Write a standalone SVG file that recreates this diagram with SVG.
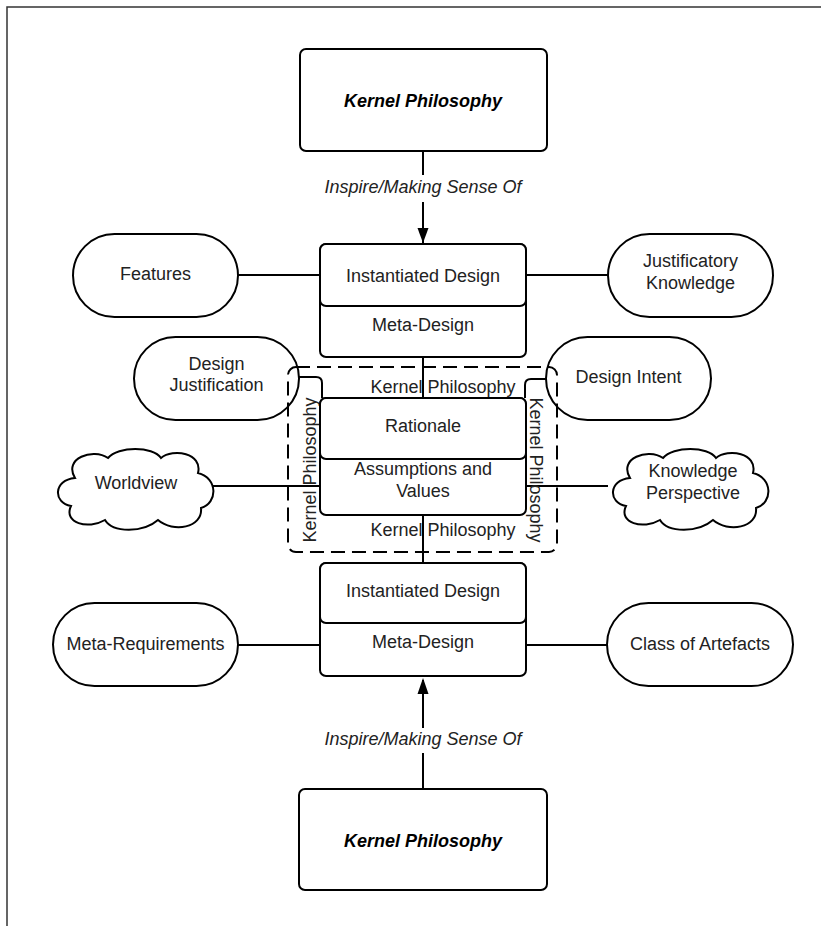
<svg xmlns="http://www.w3.org/2000/svg" width="821" height="926" viewBox="0 0 821 926">
<style>
.box{fill:#fff;stroke:#000;stroke-width:2}
.ln{fill:none;stroke:#000;stroke-width:2}
.t{font-family:"Liberation Sans",Arial,sans-serif;font-size:18px;fill:#222;text-anchor:middle}
.kb{font-weight:bold;font-style:italic;fill:#000}
.it{font-style:italic}
</style>
<defs>
<marker id="arr" markerUnits="userSpaceOnUse" markerWidth="12" markerHeight="16" viewBox="0 0 12 16" refX="6" refY="15" orient="auto-start-reverse">
<path d="M0 0 L12 0 L6 15 Z" fill="#000" transform="rotate(0)"/>
</marker>
<path id="cloud" d="M22 30 C10 10 40 0 55 10 C65 -2 100 -2 108 10 C120 0 150 5 145 25 C165 30 165 55 148 60 C150 80 120 85 105 72 C90 85 60 85 52 72 C35 82 10 75 18 58 C0 55 0 32 22 30 Z"/>
</defs>
<rect width="821" height="926" fill="#fff"/>
<path d="M7 926 V7 H821" fill="none" stroke="#333" stroke-width="1.5"/>

<g id="connectors">
<line class="ln" x1="423" y1="151" x2="423" y2="175"/>
<path class="ln" d="M423 202 V243" />
<polygon points="417.5,228 428.5,228 423,243" fill="#000"/>
<line class="ln" x1="238" y1="275" x2="320" y2="275"/>
<line class="ln" x1="526" y1="275" x2="608" y2="275"/>
<line class="ln" x1="423" y1="357" x2="423" y2="398"/>
<path class="ln" d="M299 377 H316 Q322 377 322 383 V398"/>
<path class="ln" d="M547 379 H531 Q525 379 525 385 V398"/>
<line class="ln" x1="212" y1="486" x2="320" y2="486"/>
<line class="ln" x1="526" y1="486" x2="608" y2="486"/>
<line class="ln" x1="423" y1="515" x2="423" y2="563"/>
<line class="ln" x1="238" y1="645" x2="320" y2="645"/>
<line class="ln" x1="526" y1="645" x2="607" y2="645"/>
<line class="ln" x1="423" y1="788" x2="423" y2="753"/>
<path class="ln" d="M423 728 V680"/>
<polygon points="417.5,694 428.5,694 423,678" fill="#000"/>
<text class="t it" x="423" y="193">Inspire/Making Sense Of</text>
<text class="t it" x="423" y="745">Inspire/Making Sense Of</text>
</g>

<g id="kernel-top">
<rect class="box" x="300" y="49" width="247" height="102" rx="6"/>
<text class="t kb" x="423" y="107">Kernel Philosophy</text>
</g>

<g id="design-top">
<rect class="box" x="320" y="244" width="206" height="113" rx="6"/>
<rect class="box" x="320" y="244" width="206" height="62" rx="6"/>
<text class="t" x="423" y="282">Instantiated Design</text>
<text class="t" x="423" y="331">Meta-Design</text>
</g>

<g id="features">
<rect class="box" x="73" y="234" width="165" height="83" rx="41.5"/>
<text class="t" x="155.5" y="280">Features</text>
</g>

<g id="justificatory-knowledge">
<rect class="box" x="608" y="234" width="165" height="83" rx="41.5"/>
<text class="t" x="690.5" y="267">Justificatory</text>
<text class="t" x="690.5" y="289">Knowledge</text>
</g>

<g id="design-justification">
<rect class="box" x="134" y="337" width="165" height="83" rx="41.5"/>
<text class="t" x="216.5" y="370">Design</text>
<text class="t" x="216.5" y="391">Justification</text>
</g>

<g id="design-intent">
<rect class="box" x="546" y="337" width="165" height="83" rx="41.5"/>
<text class="t" x="628.5" y="383">Design Intent</text>
</g>

<g id="kernel-frame">
<rect x="288" y="367" width="269" height="185" rx="8" fill="none" stroke="#000" stroke-width="2" stroke-dasharray="14 7"/>
<text class="t" x="443" y="393">Kernel Philosophy</text>
<text class="t" x="443" y="536">Kernel Philosophy</text>
<text class="t" transform="translate(316,470) rotate(-90)">Kernel Philosophy</text>
<text class="t" transform="translate(530,470) rotate(90)">Kernel Philosophy</text>
</g>

<g id="rationale">
<rect class="box" x="320" y="398" width="206" height="117" rx="6"/>
<rect class="box" x="320" y="398" width="206" height="61" rx="6"/>
<text class="t" x="423" y="432">Rationale</text>
<text class="t" x="423" y="475">Assumptions and</text>
<text class="t" x="423" y="497">Values</text>
</g>

<g id="worldview">
<use href="#cloud" class="box" transform="translate(53,448)"/>
<text class="t" x="136" y="489">Worldview</text>
</g>

<g id="knowledge-perspective">
<use href="#cloud" class="box" transform="translate(608,448)"/>
<text class="t" x="693" y="477">Knowledge</text>
<text class="t" x="693" y="499">Perspective</text>
</g>

<g id="design-bottom">
<rect class="box" x="320" y="563" width="206" height="113" rx="6"/>
<rect class="box" x="320" y="563" width="206" height="60" rx="6"/>
<text class="t" x="423" y="597">Instantiated Design</text>
<text class="t" x="423" y="648">Meta-Design</text>
</g>

<g id="meta-requirements">
<rect class="box" x="53" y="603" width="185" height="83" rx="41.5"/>
<text class="t" x="145.5" y="650">Meta-Requirements</text>
</g>

<g id="class-of-artefacts">
<rect class="box" x="607" y="603" width="186" height="83" rx="41.5"/>
<text class="t" x="700" y="650">Class of Artefacts</text>
</g>

<g id="kernel-bottom">
<rect class="box" x="299" y="789" width="248" height="101" rx="6"/>
<text class="t kb" x="423" y="847">Kernel Philosophy</text>
</g>
</svg>
